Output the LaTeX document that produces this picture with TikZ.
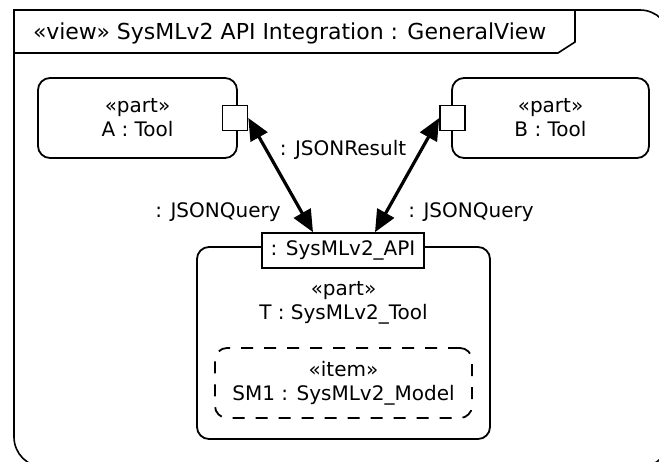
\documentclass[tikz,border=0pt]{standalone}
\usepackage{fontspec}
\setmainfont{DejaVu Sans}
\usetikzlibrary{arrows.meta,calc}
\begin{document}
\begin{tikzpicture}[x=1pt,y=-1pt,
  every node/.style={font=\fontsize{20}{24}\selectfont, inner sep=0pt},
  partbox/.style={draw, line width=1.8pt, rounded corners=12pt, align=center},
  portbox/.style={draw, line width=1.6pt, fill=white, minimum width=25pt, minimum height=25pt},
  itembox/.style={draw, line width=1.8pt, rounded corners=12pt, dash pattern=on 12pt off 11pt, align=center},
  conn/.style={line width=3.2pt, {Triangle[length=22pt,width=19pt]}-{Triangle[length=22pt,width=19pt]}},
  lbl/.style={align=center}
]
\useasboundingbox (0,0) rectangle (659,461);
\clip (0,0) rectangle (659,461);
% frame
\draw[line width=1.6pt] (14,60) -- (14,10) -- (300,10) [rounded corners=30pt] -- (670,10) -- (670,467) -- (14,467) -- (14,60);
\draw[line width=1.6pt] (14,53) -- (558,53) -- (575,42) -- (575,10);
\node[anchor=west, font=\fontsize{22}{26}\selectfont] (title) at (33,33) {«view» SysMLv2 API Integration : GeneralView};
% parts
\node[partbox, minimum width=199pt, minimum height=80pt] (A) at (137.5,118) {«part»\\A : Tool};
\node[partbox, minimum width=197pt, minimum height=80pt] (B) at (550.5,118) {«part»\\B : Tool};
\node[partbox, minimum width=293pt, minimum height=192pt] (T) at (343.5,343) {};
\node[lbl] (Tl) at (343.5,302.5) {«part»\\T : SysMLv2\_Tool};
\node[itembox, minimum width=257pt, minimum height=70pt] (SM) at (343.5,383) {«item»\\SM1 : SysMLv2\_Model};
% ports
\node[portbox] (Ap) at (235,118) {};
\node[portbox] (Bp) at (452.5,118) {};
\node[draw, line width=1.6pt, fill=white, minimum width=162pt, minimum height=35pt] (api) at (343,250.5) {: SysMLv2\_API};
% connectors
\draw[conn] (Ap.east) -- ([xshift=-30pt]api.north);
\draw[conn] (Bp.west) -- ([xshift=32pt]api.north);
\node[lbl] (l1) at (343,150) {: JSONResult};
\node[lbl] (l2) at (218,212) {: JSONQuery};
\node[lbl] (l3) at (471,212) {: JSONQuery};
\end{tikzpicture}
\end{document}
